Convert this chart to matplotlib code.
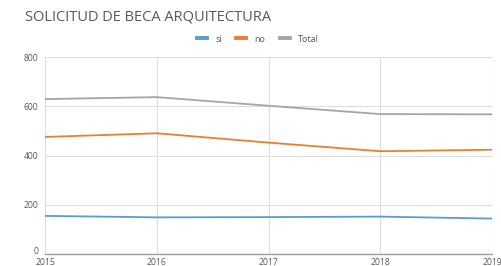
import matplotlib
matplotlib.use("Agg")
import matplotlib.pyplot as plt
import matplotlib.transforms as mtransforms
from matplotlib.lines import Line2D

years = [2015, 2016, 2017, 2018, 2019]
si = [155, 149, 150, 152, 144]
no = [476, 491, 453, 418, 424]
total = [630, 638, 603, 569, 568]
series_names = ["si", "no", "Total"]
colors = ["#5B9BD5", "#ED7D31", "#A5A5A5"]
yticks = [0, 200, 400, 600, 800]

plt.rcParams['font.family'] = ['Open Sans', 'DejaVu Sans']

W, H = 501, 266
fig = plt.figure(figsize=(W / 100, H / 100), dpi=100)
ax = fig.add_axes([45 / W, 1 - 254 / H, (492 - 45) / W, (254 - 57.3) / H])

for vals, c in zip([si, no, total], colors):
    ax.plot(years, vals, color=c, linewidth=1.3, solid_capstyle='butt')

ax.set_xlim(2015, 2019)
ax.set_ylim(0, 800)
ax.set_xticks(years)
ax.set_yticks(yticks)
ax.set_xticklabels([str(y) for y in years])
ax.grid(True, color="#DDDDDD", linewidth=0.8)
ax.set_axisbelow(True)
for s in ["top", "right", "left"]:
    ax.spines[s].set_visible(False)
ax.spines["bottom"].set_color("#A0A0A0")
ax.spines["bottom"].set_linewidth(1.0)
ax.tick_params(axis="both", length=0, labelsize=6.2, labelcolor="#595959")
ax.tick_params(axis="x", pad=2.8)
ax.tick_params(axis="y", pad=5)

# nudge the "0" label up slightly so it does not collide with "2015"
fig.canvas.draw()
zero_lbl = ax.get_yticklabels()[0]
zero_lbl.set_transform(zero_lbl.get_transform() +
                       mtransforms.ScaledTranslation(0, 2.5 / 72, fig.dpi_scale_trans))

fig.text(25 / W, 1 - 17 / H, "SOLICITUD DE BECA ARQUITECTURA", fontsize=10.5,
         color="#595959", ha="left", va="center")

handles = [Line2D([0], [0], color=c, linewidth=2.8) for c in colors]
fig.legend(handles, series_names, loc="center", bbox_to_anchor=(258 / W, 1 - 39 / H),
           ncol=3, frameon=False, fontsize=6.5, labelcolor="#595959",
           handlelength=1.1, handletextpad=0.9, columnspacing=1.6)

fig.savefig("out.png", dpi=100)
